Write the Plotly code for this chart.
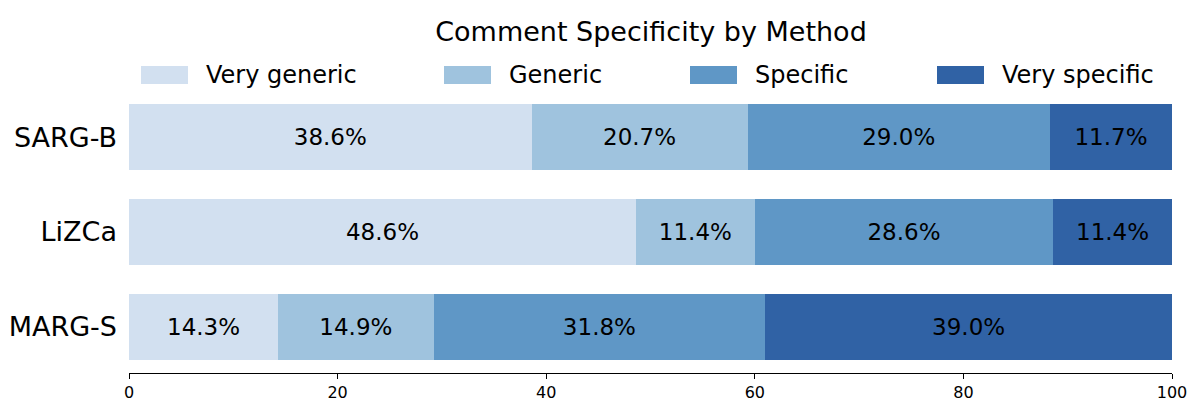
import plotly.graph_objects as go

# data
methods = ['SARG-B', 'LiZCa', 'MARG-S']
levels = ['Very generic', 'Generic', 'Specific', 'Very specific']
very_generic = [38.6, 48.6, 14.3]
generic = [20.7, 11.4, 14.9]
specific = [29.0, 28.6, 31.8]
very_specific = [11.7, 11.4, 39.0]
x_ticks = [0, 20, 40, 60, 80, 100]

colors = ['#d2e0f0', '#9fc3de', '#5f97c6', '#3062a5']
series = [very_generic, generic, specific, very_specific]

# the page has an 8px body margin, so the figure is a bit smaller than the window
OFF = 8
FW, FH = 1200 - 2 * OFF, 410 - 2 * OFF
L, T = 129 - OFF, 91 - OFF
W, H = 1043, 282

fig = go.Figure()
for name, vals, col in zip(levels, series, colors):
    fig.add_trace(go.Bar(
        y=methods, x=vals, name=name, orientation='h', width=0.7,
        marker=dict(color=col, line=dict(width=0)),
        texttemplate='%{x:.1f}%', textposition='inside',
        insidetextanchor='middle', constraintext='none',
        textfont=dict(size=23, color='black', family='DejaVu Sans'),
        showlegend=False,
    ))

# legend drawn by hand so the patches are wide rectangles like the original
patch_px = [141, 444, 690, 937]
for i, (name, col) in enumerate(zip(levels, colors)):
    x0 = (patch_px[i] - 129) / W
    fig.add_shape(type='rect', xref='paper', yref='paper',
                  x0=x0, x1=x0 + 47 / W, y0=(373 - 84) / H, y1=(373 - 66) / H,
                  fillcolor=col, line=dict(width=0))
    fig.add_annotation(text=name, xref='paper', yref='paper',
                       x=x0 + 63 / W, y=(373 - 75) / H, xanchor='left',
                       yanchor='middle', showarrow=False,
                       font=dict(size=24, color='black', family='DejaVu Sans'))

fig.update_layout(
    barmode='stack',
    width=FW, height=FH,
    margin=dict(l=L, r=FW - L - W, t=T, b=FH - T - H),
    plot_bgcolor='white', paper_bgcolor='white',
    font=dict(family='DejaVu Sans', color='black'),
    title=dict(text='Comment Specificity by Method', x=(651 - OFF) / FW,
               xanchor='center', y=1 - (32 - OFF) / FH, yanchor='middle',
               font=dict(size=27, color='black', family='DejaVu Sans')),
    xaxis=dict(range=[0, 100], tickvals=x_ticks, showgrid=False, zeroline=False,
               showline=True, linecolor='black', linewidth=1.1,
               ticks='outside', ticklen=5, tickwidth=1.1, tickcolor='black',
               tickfont=dict(size=16, color='black'), automargin=False),
    yaxis=dict(range=[2.485, -0.485], showgrid=False, zeroline=False,
               showline=False, ticks='', ticklabelstandoff=11,
               tickfont=dict(size=27, color='black'), automargin=False),
)

fig.write_html('out.html')
